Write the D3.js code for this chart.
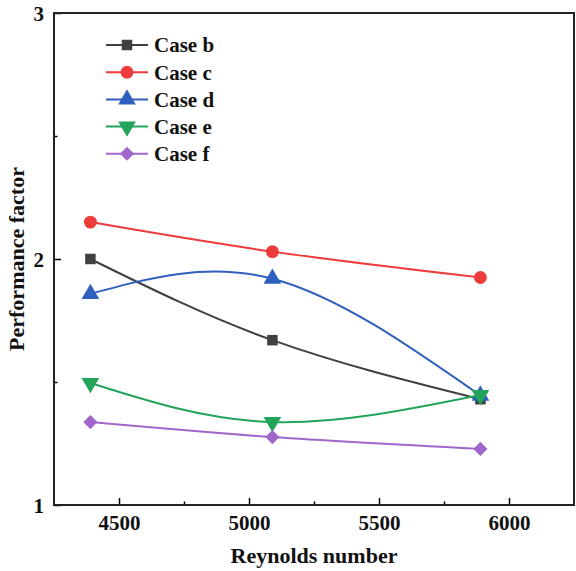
<!DOCTYPE html>
<html>
<head>
<meta charset="utf-8">
<script src="https://cdn.jsdelivr.net/npm/d3@7"></script>
<style>
  body { margin: 0; background: #fff; }
  text { font-family: "Liberation Serif", "Times New Roman", serif; font-weight: bold; fill: #111; }
</style>
</head>
<body>
<div id="chart"></div>
<script>
// data
var reynolds = [4390, 5090, 5890];
var caseNames = ["Case b", "Case c", "Case d", "Case e", "Case f"];
var caseB = [2.00, 1.67, 1.43];
var caseC = [2.15, 2.03, 1.925];
var caseD = [1.858, 1.92, 1.445];
var caseE = [1.496, 1.337, 1.447];
var caseF = [1.337, 1.276, 1.228];
var xTicks = [4500, 5000, 5500, 6000];
var yTicks = [1, 2, 3];

var colors = ["#404040", "#ee3b3b", "#2f5fbf", "#22a55a", "#a066cc"];
var symbols = [d3.symbolSquare, d3.symbolCircle, d3.symbolTriangle, d3.symbolTriangle, d3.symbolSquare];
var rotations = [0, 0, 0, 180, 45];
var sizes = [110, 130, 135, 135, 100];

var series = caseNames.map(function(name, i) {
  return {name: name, values: [caseB, caseC, caseD, caseE, caseF][i]};
});

var svg = d3.select("#chart")
  .append("svg")
  .attr("width", 576)
  .attr("height", 571);

var margin = {top: 13, right: 2, bottom: 66, left: 54},
    width = +svg.attr("width") - margin.left - margin.right,
    height = +svg.attr("height") - margin.top - margin.bottom;

var x = d3.scaleLinear().domain([4250, 6250]).range([0, width]);
var y = d3.scaleLinear().domain([1, 3]).range([height, 0]);

var g = svg.append("g")
    .attr("transform", "translate(" + margin.left + "," + margin.top + ")");

// minor ticks
g.append("g")
    .attr("transform", "translate(0," + height + ")")
    .call(d3.axisBottom(x).tickValues([4750, 5250, 5750]).tickSize(-3.5).tickFormat(""))
    .call(function(a) { a.select(".domain").remove(); a.selectAll("line").attr("stroke-width", 1.5); });
g.append("g")
    .call(d3.axisLeft(y).tickValues([1.5, 2.5]).tickSize(-3.5).tickFormat(""))
    .call(function(a) { a.select(".domain").remove(); a.selectAll("line").attr("stroke-width", 1.5); });

// major ticks
var xAxis = g.append("g")
    .attr("transform", "translate(0," + height + ")")
    .call(d3.axisBottom(x).tickValues(xTicks).tickSize(-7).tickPadding(10).tickFormat(d3.format("d")));
var yAxis = g.append("g")
    .call(d3.axisLeft(y).tickValues(yTicks).tickSize(-7).tickPadding(10).tickFormat(d3.format("d")));

[xAxis, yAxis].forEach(function(a) {
  a.select(".domain").remove();
  a.selectAll("line").attr("stroke-width", 1.5);
  a.selectAll("text").style("font-size", "21px").attr("fill", "#111");
});
yAxis.selectAll("text").attr("dy", "0.35em");

// frame
g.append("rect")
    .attr("width", width)
    .attr("height", height)
    .attr("fill", "none")
    .attr("stroke", "#222")
    .attr("stroke-width", 2);

var line = d3.line()
    .x(function(d, i) { return x(reynolds[i]); })
    .y(function(d) { return y(d); })
    .curve(d3.curveNatural);

function marker(i) {
  return d3.symbol().type(symbols[i]).size(sizes[i])();
}

series.forEach(function(s, i) {
  g.append("path")
      .attr("d", line(s.values))
      .attr("fill", "none")
      .attr("stroke", colors[i])
      .attr("stroke-width", 2);

  g.selectAll(".pt" + i)
      .data(s.values)
    .enter().append("path")
      .attr("class", "pt" + i)
      .attr("d", marker(i))
      .attr("transform", function(d, j) {
        return "translate(" + x(reynolds[j]) + "," + y(d) + ") rotate(" + rotations[i] + ")";
      })
      .attr("fill", colors[i]);
});

// legend
var legend = g.selectAll(".legend")
    .data(series)
  .enter().append("g")
    .attr("class", "legend")
    .attr("transform", function(d, i) { return "translate(52," + (32 + i * 27.2) + ")"; });

legend.append("line")
    .attr("x1", 0)
    .attr("x2", 42)
    .attr("stroke", function(d, i) { return colors[i]; })
    .attr("stroke-width", 2);

legend.append("path")
    .attr("d", function(d, i) { return marker(i); })
    .attr("transform", function(d, i) { return "translate(21,0) rotate(" + rotations[i] + ")"; })
    .attr("fill", function(d, i) { return colors[i]; });

legend.append("text")
    .attr("x", 48)
    .attr("dy", "0.35em")
    .style("font-size", "21px")
    .text(function(d) { return d.name; });

// axis titles
svg.append("text")
    .attr("x", margin.left + width / 2)
    .attr("y", 563)
    .attr("text-anchor", "middle")
    .style("font-size", "22px")
    .text("Reynolds number");

svg.append("text")
    .attr("transform", "translate(24," + (margin.top + height / 2) + ") rotate(-90)")
    .attr("text-anchor", "middle")
    .style("font-size", "22px")
    .text("Performance factor");
</script>
</body>
</html>
